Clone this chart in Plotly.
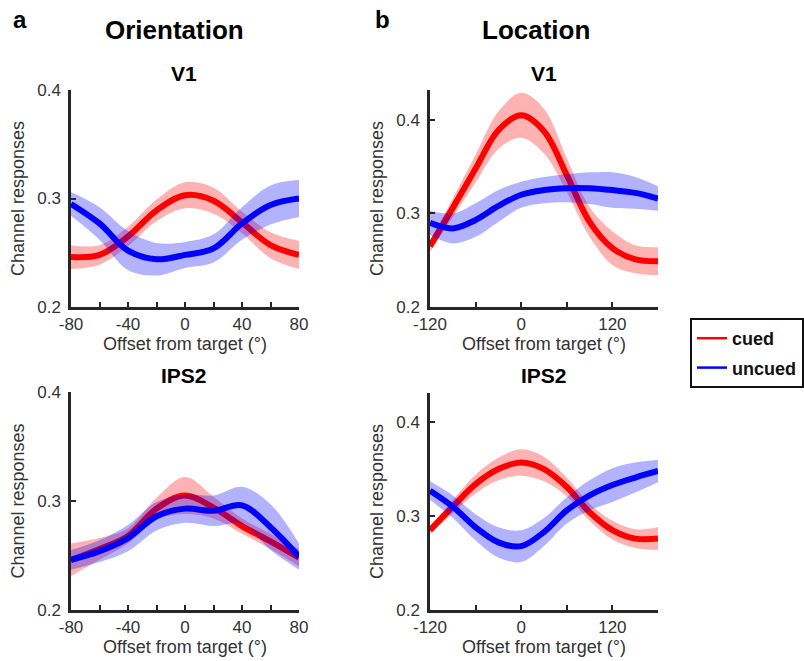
import plotly.graph_objects as go

# ---------------- data ----------------
ori_x = [-80, -60, -40, -20, 0, 20, 40, 60, 80]
loc_x = [-120, -90, -60, -30, 0, 30, 60, 90, 120, 150, 180]

# Orientation, V1
ori_v1_cued = [0.246, 0.248, 0.265, 0.289, 0.303, 0.298, 0.278, 0.257, 0.248]
ori_v1_cued_err = [0.011, 0.009, 0.009, 0.010, 0.012, 0.012, 0.010, 0.012, 0.013]
ori_v1_uncued = [0.295, 0.277, 0.252, 0.244, 0.248, 0.254, 0.277, 0.294, 0.300]
ori_v1_uncued_err = [0.011, 0.015, 0.018, 0.015, 0.012, 0.013, 0.015, 0.018, 0.017]

# Orientation, IPS2
ori_ips2_cued = [0.246, 0.256, 0.268, 0.293, 0.305, 0.294, 0.277, 0.263, 0.248]
ori_ips2_cued_err = [0.015, 0.010, 0.007, 0.010, 0.017, 0.010, 0.007, 0.007, 0.008]
ori_ips2_uncued = [0.246, 0.254, 0.266, 0.286, 0.293, 0.291, 0.296, 0.276, 0.249]
ori_ips2_uncued_err = [0.009, 0.010, 0.012, 0.013, 0.013, 0.014, 0.017, 0.021, 0.012]

# Location, V1
loc_v1_cued = [0.265, 0.306, 0.348, 0.389, 0.405, 0.388, 0.341, 0.291, 0.263, 0.251, 0.249]
loc_v1_cued_err = [0.006, 0.010, 0.015, 0.020, 0.024, 0.024, 0.018, 0.016, 0.018, 0.015, 0.015]
loc_v1_uncued = [0.290, 0.284, 0.293, 0.308, 0.320, 0.325, 0.327, 0.327, 0.325, 0.322, 0.316]
loc_v1_uncued_err = [0.013, 0.016, 0.018, 0.017, 0.014, 0.014, 0.015, 0.017, 0.019, 0.017, 0.013]

# Location, IPS2
loc_ips2_cued = [0.285, 0.310, 0.334, 0.350, 0.357, 0.350, 0.331, 0.304, 0.285, 0.276, 0.276]
loc_ips2_cued_err = [0.004, 0.007, 0.010, 0.012, 0.014, 0.013, 0.010, 0.009, 0.010, 0.010, 0.012]
loc_ips2_uncued = [0.327, 0.310, 0.288, 0.272, 0.268, 0.283, 0.306, 0.322, 0.333, 0.341, 0.348]
loc_ips2_uncued_err = [0.010, 0.012, 0.014, 0.016, 0.017, 0.015, 0.014, 0.016, 0.018, 0.016, 0.012]

series_names = ["cued", "uncued"]
ori_ticks = [-80, -60, -40, -20, 0, 20, 40, 60, 80]
ori_ticktext = ["-80", "", "-40", "", "0", "", "40", "", "80"]
loc_ticks = [-120, -60, 0, 60, 120, 180]
loc_ticktext = ["-120", "", "0", "", "120", ""]
y_ticks = [0.2, 0.3, 0.4]
y_ticktext = ["0.2", "0.3", "0.4"]

# ---------------- styling ----------------
W, H = 804, 661
RED, BLUE = "#ff0000", "#0000ff"
RED_BAND, BLUE_BAND = "rgba(255,0,0,0.30)", "rgba(0,0,255,0.30)"
FONT = "Liberation Sans, Arial, Helvetica, sans-serif"
AX = "#262626"
TXT = "#333333"

fig = go.Figure()


def add_series(x, mean, err, color, band, xa, ya):
    upper = [m + e for m, e in zip(mean, err)]
    lower = [m - e for m, e in zip(mean, err)]
    fig.add_trace(go.Scatter(x=x, y=upper, mode="lines", line=dict(width=0, shape="spline", color=band),
                             hoverinfo="skip", showlegend=False, xaxis=xa, yaxis=ya))
    fig.add_trace(go.Scatter(x=x, y=lower, mode="lines", line=dict(width=0, shape="spline", color=band),
                             fill="tonexty", fillcolor=band, hoverinfo="skip", showlegend=False,
                             xaxis=xa, yaxis=ya))
    fig.add_trace(go.Scatter(x=x, y=mean, mode="lines", line=dict(width=6, shape="spline", color=color),
                             showlegend=False, xaxis=xa, yaxis=ya))


panels = [
    ("x", "y", ori_x, ori_v1_cued, ori_v1_cued_err, ori_v1_uncued, ori_v1_uncued_err),
    ("x2", "y2", loc_x, loc_v1_cued, loc_v1_cued_err, loc_v1_uncued, loc_v1_uncued_err),
    ("x3", "y3", ori_x, ori_ips2_cued, ori_ips2_cued_err, ori_ips2_uncued, ori_ips2_uncued_err),
    ("x4", "y4", loc_x, loc_ips2_cued, loc_ips2_cued_err, loc_ips2_uncued, loc_ips2_uncued_err),
]
for xa, ya, x, c, ce, u, ue in panels:
    add_series(x, c, ce, RED, RED_BAND, xa, ya)
    add_series(x, u, ue, BLUE, BLUE_BAND, xa, ya)

# legend entries
for name, color in zip(series_names, [RED, BLUE]):
    fig.add_trace(go.Scatter(x=[None], y=[None], mode="lines", name="<b>%s</b>" % name,
                             line=dict(color=color, width=2.5), legendgroup=name,
                             xaxis="x2", yaxis="y2"))


def px_x(p):
    return p / W


def px_y(p):
    return 1 - p / H


def xaxis(domain, rng, ticks, text, anchor):
    return dict(domain=domain, range=rng, anchor=anchor, showline=True, linewidth=2.5, linecolor=AX,
                ticks="inside", ticklen=5, tickwidth=2, tickcolor=AX, showgrid=False, zeroline=False,
                tickmode="array", tickvals=ticks, ticktext=text, automargin=False,
                tickfont=dict(family=FONT, size=17, color=TXT),
                title=dict(text="Offset from target (°)", font=dict(family=FONT, size=18, color=TXT),
                           standoff=2))


def yaxis(domain, rng, anchor):
    return dict(domain=domain, range=rng, anchor=anchor, showline=True, linewidth=2.5, linecolor=AX,
                ticks="inside", ticklen=5, tickwidth=2, tickcolor=AX, showgrid=False, zeroline=False,
                tickmode="array", tickvals=y_ticks, ticktext=y_ticktext, ticklabelstandoff=4,
                automargin=False,
                tickfont=dict(family=FONT, size=17, color=TXT),
                title=dict(text="Channel responses", font=dict(family=FONT, size=18, color=TXT),
                           standoff=8))


xa_dom = [px_x(71), px_x(299)]
xb_dom = [px_x(430), px_x(658)]
top_dom = [px_y(307), px_y(90)]
bot_dom = [px_y(610), px_y(392)]
botb_dom = [px_y(610), px_y(393)]

fig.update_layout(
    width=W, height=H,
    margin=dict(l=0, r=0, t=0, b=0, autoexpand=False),
    paper_bgcolor="white", plot_bgcolor="white",
    font=dict(family=FONT, color=TXT),
    xaxis=xaxis(xa_dom, [-80, 80], ori_ticks, ori_ticktext, "y"),
    yaxis=yaxis(top_dom, [0.2, 0.4], "x"),
    xaxis2=xaxis(xb_dom, [-120, 180], loc_ticks, loc_ticktext, "y2"),
    yaxis2=yaxis(top_dom, [0.2, 0.432], "x2"),
    xaxis3=xaxis(xa_dom, [-80, 80], ori_ticks, ori_ticktext, "y3"),
    yaxis3=yaxis(bot_dom, [0.2, 0.4], "x3"),
    xaxis4=xaxis(xb_dom, [-120, 180], loc_ticks, loc_ticktext, "y4"),
    yaxis4=yaxis(botb_dom, [0.2, 0.431], "x4"),
    showlegend=True,
    legend=dict(x=px_x(690), y=px_y(318), xanchor="left", yanchor="top",
                bordercolor="#111111", borderwidth=2, bgcolor="white",
                font=dict(family=FONT, size=18, color="#111111"),
                traceorder="grouped", tracegroupgap=3, itemwidth=30),
)

annots = [
    ("a", 20, 20, 24), ("b", 382, 20, 24),
    ("Orientation", 174, 30, 26), ("Location", 536, 30, 26),
    ("V1", 184, 74, 21), ("V1", 544, 74, 21),
    ("IPS2", 184, 375, 21), ("IPS2", 544, 375, 21),
]
for text, x, y, size in annots:
    fig.add_annotation(text="<b>%s</b>" % text, x=px_x(x), y=px_y(y), xref="paper", yref="paper",
                       xanchor="center", yanchor="middle", showarrow=False,
                       font=dict(family=FONT, size=size, color="black"))

fig.write_html("out.html", config={"displayModeBar": False},
               post_script="document.body.style.margin='0';document.body.style.padding='0';"
                           "document.documentElement.style.overflow='hidden';")
